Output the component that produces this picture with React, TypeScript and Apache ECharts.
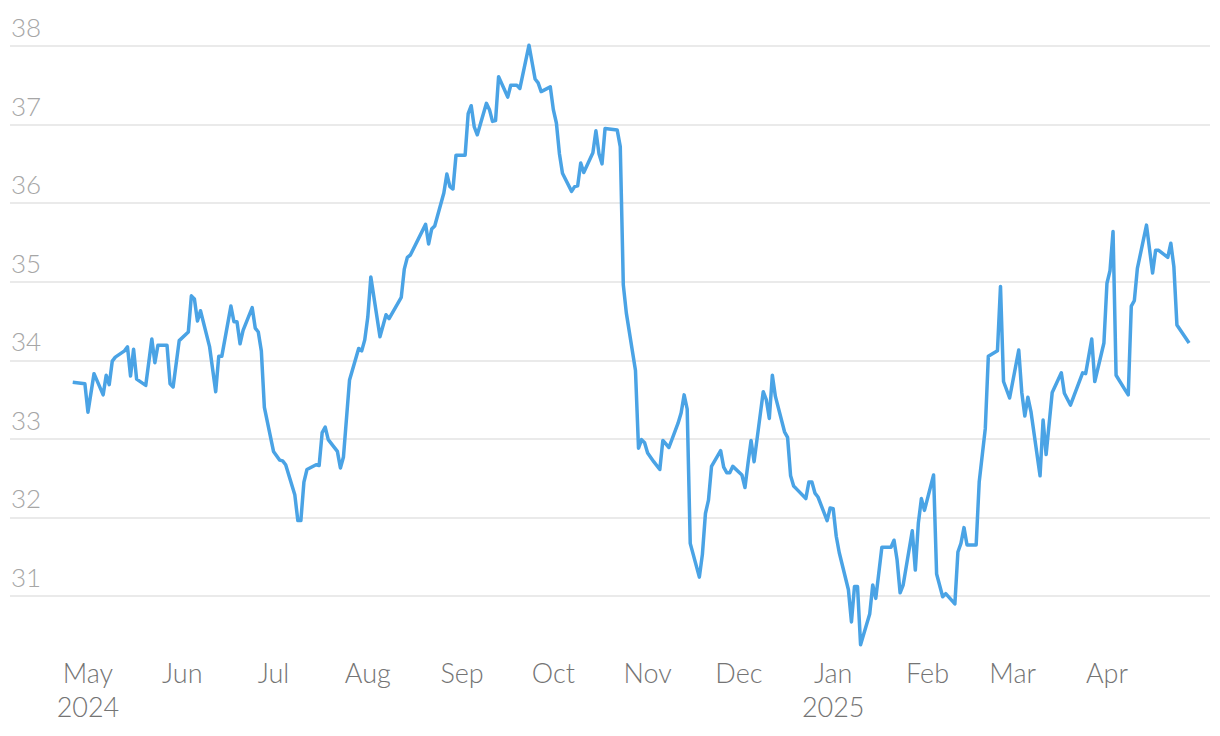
import React, { useEffect, useRef } from "react";
import * as echarts from "echarts";

const dates: string[] = [
  "2024-04-26", "2024-04-30", "2024-05-01", "2024-05-03", "2024-05-06", "2024-05-07", "2024-05-08", "2024-05-09", "2024-05-10",
  "2024-05-13", "2024-05-14", "2024-05-15", "2024-05-16", "2024-05-17", "2024-05-20", "2024-05-22", "2024-05-23", "2024-05-24",
  "2024-05-27", "2024-05-28", "2024-05-29", "2024-05-31", "2024-06-03", "2024-06-04", "2024-06-05", "2024-06-06", "2024-06-07",
  "2024-06-10", "2024-06-12", "2024-06-13", "2024-06-14", "2024-06-17", "2024-06-18", "2024-06-19", "2024-06-20", "2024-06-21",
  "2024-06-24", "2024-06-25", "2024-06-26", "2024-06-27", "2024-06-28", "2024-07-01", "2024-07-03", "2024-07-04", "2024-07-05",
  "2024-07-08", "2024-07-09", "2024-07-10", "2024-07-11", "2024-07-12", "2024-07-15", "2024-07-16", "2024-07-17", "2024-07-18",
  "2024-07-19", "2024-07-22", "2024-07-23", "2024-07-24", "2024-07-26", "2024-07-29", "2024-07-30", "2024-07-31", "2024-08-01",
  "2024-08-02", "2024-08-05", "2024-08-07", "2024-08-08", "2024-08-12", "2024-08-13", "2024-08-14", "2024-08-15", "2024-08-20",
  "2024-08-21", "2024-08-22", "2024-08-23", "2024-08-26", "2024-08-27", "2024-08-28", "2024-08-29", "2024-08-30", "2024-09-02",
  "2024-09-03", "2024-09-04", "2024-09-05", "2024-09-06", "2024-09-09", "2024-09-10", "2024-09-11", "2024-09-12", "2024-09-13",
  "2024-09-16", "2024-09-17", "2024-09-19", "2024-09-20", "2024-09-23", "2024-09-25", "2024-09-26", "2024-09-27", "2024-09-30",
  "2024-10-01", "2024-10-02", "2024-10-03", "2024-10-04", "2024-10-07", "2024-10-08", "2024-10-09", "2024-10-10", "2024-10-11",
  "2024-10-14", "2024-10-15", "2024-10-16", "2024-10-17", "2024-10-18", "2024-10-22", "2024-10-23", "2024-10-24", "2024-10-25",
  "2024-10-28", "2024-10-29", "2024-10-30", "2024-10-31", "2024-11-01", "2024-11-03", "2024-11-05", "2024-11-06", "2024-11-08",
  "2024-11-11", "2024-11-12", "2024-11-13", "2024-11-14", "2024-11-15", "2024-11-18", "2024-11-19", "2024-11-20", "2024-11-21",
  "2024-11-22", "2024-11-25", "2024-11-26", "2024-11-27", "2024-11-28", "2024-11-29", "2024-12-02", "2024-12-03", "2024-12-04",
  "2024-12-05", "2024-12-06", "2024-12-09", "2024-12-10", "2024-12-11", "2024-12-12", "2024-12-13", "2024-12-16", "2024-12-17",
  "2024-12-18", "2024-12-19", "2024-12-20", "2024-12-23", "2024-12-24", "2024-12-25", "2024-12-26", "2024-12-27", "2024-12-30",
  "2024-12-31", "2025-01-01", "2025-01-02", "2025-01-03", "2025-01-06", "2025-01-07", "2025-01-08", "2025-01-09", "2025-01-10",
  "2025-01-13", "2025-01-14", "2025-01-15", "2025-01-17", "2025-01-20", "2025-01-21", "2025-01-22", "2025-01-23", "2025-01-24",
  "2025-01-27", "2025-01-28", "2025-01-29", "2025-01-30", "2025-01-31", "2025-02-03", "2025-02-04", "2025-02-06", "2025-02-07",
  "2025-02-10", "2025-02-11", "2025-02-12", "2025-02-13", "2025-02-14", "2025-02-17", "2025-02-18", "2025-02-20", "2025-02-21",
  "2025-02-24", "2025-02-25", "2025-02-26", "2025-02-28", "2025-03-03", "2025-03-04", "2025-03-05", "2025-03-06", "2025-03-07",
  "2025-03-10", "2025-03-11", "2025-03-12", "2025-03-14", "2025-03-17", "2025-03-18", "2025-03-20", "2025-03-24", "2025-03-25",
  "2025-03-27", "2025-03-28", "2025-03-31", "2025-04-01", "2025-04-02", "2025-04-03", "2025-04-04", "2025-04-07", "2025-04-08",
  "2025-04-09", "2025-04-10", "2025-04-11", "2025-04-14", "2025-04-16", "2025-04-17", "2025-04-18", "2025-04-21", "2025-04-22",
  "2025-04-23", "2025-04-24", "2025-04-28",
];

const values: number[] = [
  33.72, 33.70, 33.34, 33.83, 33.56, 33.81, 33.69, 33.99, 34.04,
  34.12, 34.17, 33.80, 34.14, 33.76, 33.68, 34.27, 33.97, 34.19,
  34.19, 33.70, 33.66, 34.25, 34.36, 34.82, 34.78, 34.50, 34.63,
  34.17, 33.60, 34.05, 34.05, 34.69, 34.49, 34.49, 34.21, 34.38,
  34.67, 34.41, 34.36, 34.12, 33.40, 32.84, 32.73, 32.72, 32.67,
  32.29, 31.96, 31.96, 32.45, 32.61, 32.67, 32.66, 33.08, 33.15,
  32.99, 32.84, 32.63, 32.77, 33.75, 34.15, 34.12, 34.26, 34.55,
  35.06, 34.30, 34.58, 34.53, 34.80, 35.16, 35.31, 35.34, 35.73,
  35.48, 35.67, 35.71, 36.13, 36.37, 36.21, 36.18, 36.61, 36.61,
  37.14, 37.24, 36.97, 36.87, 37.27, 37.19, 37.04, 37.05, 37.61,
  37.35, 37.50, 37.50, 37.46, 38.01, 37.58, 37.53, 37.42, 37.48,
  37.19, 37.02, 36.63, 36.38, 36.15, 36.21, 36.22, 36.51, 36.39,
  36.64, 36.92, 36.63, 36.50, 36.95, 36.93, 36.72, 34.96, 34.60,
  33.87, 32.88, 32.99, 32.95, 32.82, 32.71, 32.61, 32.98, 32.89,
  33.20, 33.33, 33.56, 33.38, 31.67, 31.24, 31.53, 32.05, 32.22,
  32.65, 32.85, 32.64, 32.57, 32.57, 32.65, 32.54, 32.38, 32.69,
  32.98, 32.71, 33.60, 33.50, 33.26, 33.81, 33.54, 33.09, 33.02,
  32.53, 32.40, 32.36, 32.24, 32.45, 32.45, 32.31, 32.26, 31.96,
  32.12, 32.11, 31.76, 31.55, 31.08, 30.67, 31.12, 31.12, 30.38,
  30.77, 31.14, 30.97, 31.62, 31.62, 31.71, 31.46, 31.04, 31.14,
  31.83, 31.33, 31.93, 32.24, 32.09, 32.54, 31.28, 30.99, 31.03,
  30.90, 31.56, 31.67, 31.87, 31.65, 31.65, 32.45, 33.13, 34.05,
  34.12, 34.94, 33.73, 33.52, 34.13, 33.59, 33.29, 33.53, 33.35,
  32.53, 33.24, 32.80, 33.59, 33.84, 33.58, 33.43, 33.84, 33.83,
  34.27, 33.73, 34.22, 34.98, 35.14, 35.64, 33.81, 33.62, 33.56,
  34.69, 34.76, 35.17, 35.72, 35.11, 35.40, 35.40, 35.31, 35.49,
  35.19, 34.45, 34.22,
];

const monthNames: string[] = ["Jan", "Feb", "Mar", "Apr", "May", "Jun", "Jul", "Aug", "Sep", "Oct", "Nov", "Dec"];
const yearTickMonths: string[] = ["2024-05", "2025-01"];
const lastLabelledMonth = "2025-04";

export default function App() {
  const ref = useRef<HTMLDivElement>(null);

  useEffect(() => {
    document.body.style.margin = "0";
    if (!ref.current) return;
    const chart = echarts.init(ref.current, undefined, { renderer: "svg" });
    const data = dates.map((d, i) => [d, values[i]]);
    const font = "Lato, 'Open Sans', sans-serif";

    chart.setOption({
      animation: false,
      backgroundColor: "#ffffff",
      grid: { left: 10, right: 10, top: 46, bottom: 85, outerBoundsMode: "none" },
      xAxis: {
        type: "time",
        min: new Date(2024, 3, 5, 9).getTime(),
        max: new Date(2025, 4, 4, 21).getTime(),
        splitNumber: 12,
        minInterval: 28 * 86400000,
        axisLine: { show: false },
        axisTick: { show: false },
        splitLine: { show: false },
        axisLabel: {
          color: "#747474",
          fontSize: 27,
          fontFamily: font,
          fontWeight: 300,
          lineHeight: 34,
          margin: 4,
          hideOverlap: false,
          formatter: (value: number) => {
            const d = new Date(value);
            const key = `${d.getFullYear()}-${String(d.getMonth() + 1).padStart(2, "0")}`;
            if (key > lastLabelledMonth) return "";
            const m = monthNames[d.getMonth()];
            return yearTickMonths.includes(key) ? `${m}\n${d.getFullYear()}` : m;
          },
        },
      },
      yAxis: {
        type: "value",
        min: 30.3,
        max: 38,
        minInterval: 1,
        maxInterval: 1,
        axisLine: { show: false },
        axisTick: { show: false },
        splitLine: {
          show: true,
          showMinLine: false,
          lineStyle: { color: "#e3e3e3", width: 1.5 },
        },
        axisLabel: {
          inside: true,
          showMinLabel: false,
          verticalAlign: "bottom",
          align: "left",
          margin: 1,
          padding: [0, 0, 6, 0],
          color: "#a6a6a6",
          fontSize: 26,
          fontFamily: font,
          fontWeight: 300,
        },
      },
      series: [
        {
          type: "line",
          data,
          showSymbol: false,
          clip: false,
          lineStyle: { color: "#4aa3e5", width: 3.5, join: "round" },
          itemStyle: { color: "#4aa3e5" },
        },
      ],
    });

    return () => chart.dispose();
  }, []);

  return <div ref={ref} style={{ width: 1220, height: 736 }} />;
}
